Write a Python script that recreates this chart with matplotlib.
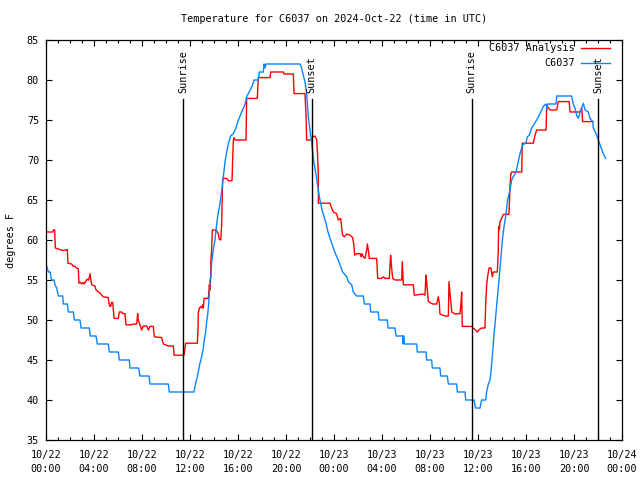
import matplotlib
matplotlib.use('Agg')
import matplotlib.pyplot as plt
from matplotlib.ticker import MultipleLocator

# hours since 2024-10-22 00:00 UTC
analysis_hours = [0.0, 0.56, 0.61, 0.72, 0.78, 1.17, 1.31, 1.72, 1.78, 1.83, 2.14, 2.28, 2.42, 2.56, 2.69,
                  2.75, 2.89, 2.97, 3.11, 3.19, 3.33, 3.44, 3.56, 3.67, 3.72, 3.81, 4.08, 4.17, 4.36, 4.5,
                  4.64, 4.78, 5.19, 5.25, 5.33, 5.39, 5.47, 5.56, 5.67, 6.03, 6.11, 6.31, 6.39, 6.58, 6.67,
                  7.14, 7.28, 7.56, 7.64, 7.69, 7.83, 7.97, 8.11, 8.39, 8.53, 8.67, 8.94, 9.03, 9.64, 9.78,
                  10.19, 10.61, 10.67, 11.5, 11.64, 12.61, 12.67, 12.69, 12.78, 12.92, 13.0, 13.06, 13.11,
                  13.17, 13.53, 13.61, 13.67, 13.72, 13.74, 13.8, 13.86, 14.17, 14.36, 14.44, 14.56, 14.64,
                  14.72, 15.06, 15.2, 15.5, 15.61, 15.67, 15.75, 16.67, 16.72, 17.61, 17.69, 18.67, 18.72,
                  19.78, 19.83, 20.61, 20.67, 21.58, 21.67, 21.72, 22.14, 22.22, 22.42, 22.56, 22.61, 22.69,
                  22.7, 23.67, 23.81, 23.94, 24.22, 24.36, 24.56, 24.64, 24.72, 24.86, 25.06, 25.33, 25.56,
                  25.67, 25.72, 25.89, 26.17, 26.25, 26.33, 26.44, 26.58, 26.72, 26.78, 26.86, 26.94, 27.56,
                  27.64, 27.97, 28.11, 28.25, 28.61, 28.67, 28.72, 28.78, 28.89, 29.08, 29.64, 29.69, 29.78,
                  30.61, 30.69, 31.44, 31.58, 31.67, 31.72, 31.86, 32.22, 32.56, 32.69, 32.78, 32.83, 33.25,
                  33.53, 33.58, 33.67, 33.81, 34.08, 34.5, 34.58, 34.64, 34.69, 35.47, 35.6, 35.83, 35.94,
                  36.1, 36.3, 36.58, 36.64, 36.72, 36.8, 36.92, 37.08, 37.19, 37.28, 37.61, 37.69, 37.72,
                  37.78, 37.83, 37.97, 38.11, 38.58, 38.67, 38.72, 38.8, 39.64, 39.69, 40.61, 40.75, 40.89,
                  41.67, 41.72, 41.78, 42.0, 42.56, 42.69, 43.6, 43.67, 44.5, 44.64, 44.72, 45.61]
analysis_temps = [61.0, 61.0, 61.25, 61.25, 59.0, 58.8, 58.7, 58.75, 58.8, 57.1, 57.0, 56.7, 56.7, 56.5, 56.4,
                  54.6, 54.7, 54.5, 54.7, 54.5, 54.9, 55.1, 55.0, 55.8, 55.2, 54.4, 54.25, 53.75, 53.5, 53.4,
                  53.1, 52.9, 52.8, 52.1, 51.7, 51.7, 52.2, 52.2, 50.2, 50.2, 51.0, 51.0, 50.8, 50.8, 49.4,
                  49.4, 49.5, 49.5, 50.8, 50.0, 49.4, 48.75, 49.25, 49.25, 48.75, 49.2, 49.2, 47.9, 47.8, 47.0,
                  46.75, 46.75, 45.6, 45.6, 47.1, 47.1, 49.0, 50.9, 51.5, 51.7, 51.5, 51.9, 51.5,
                  52.7, 52.7, 54.4, 53.75, 55.4, 57.5, 58.75, 61.25, 61.25, 60.8, 60.1, 60.0, 62.0,
                  67.7, 67.7, 67.4, 67.4, 72.5, 72.8, 72.5, 72.5, 77.7, 77.7, 80.3, 80.3, 81.0,
                  81.0, 80.75, 80.75, 78.3, 78.3, 75.6, 72.5, 72.5, 72.9, 73.0, 72.5, 71.25, 68.5,
                  64.6, 64.6, 64.0, 63.5, 63.3, 62.5, 62.7, 61.5, 60.6, 60.4, 60.75, 60.6, 60.3,
                  59.2, 58.1, 58.3, 58.3, 57.9, 58.3, 57.9, 57.7, 58.75, 59.5, 58.75, 57.7, 57.7,
                  55.2, 55.2, 55.4, 55.2, 55.2, 56.7, 58.1, 56.9, 55.2, 55.0, 55.0, 57.3, 54.4,
                  54.4, 53.1, 53.25, 53.1, 55.6, 54.8, 52.3, 52.0, 52.0, 52.9, 52.1, 50.75, 50.5,
                  50.5, 54.8, 53.3, 51.0, 50.75, 50.8, 52.1, 53.5, 49.2, 49.2, 49.0, 48.7, 48.5,
                  48.8, 49.0, 49.0, 51.9, 54.4, 55.4, 56.5, 56.5, 55.4, 56.0, 56.0, 58.75, 61.7,
                  61.3, 62.3, 62.7, 63.2, 63.2, 66.7, 68.1, 68.5, 68.5, 72.1, 72.1, 73.1, 73.75,
                  73.75, 76.5, 76.7, 76.25, 76.25, 77.3, 77.3, 76.0, 76.0, 76.5, 74.8, 74.8]

obs_hours = [0.0, 0.2, 0.35, 0.45, 0.67, 0.75, 0.89, 1.03, 1.39, 1.44, 1.78, 1.86, 2.28, 2.36, 2.83, 2.92,
             3.61, 3.69, 4.17, 4.28, 5.19, 5.28, 6.03, 6.11, 6.94, 7.0, 7.72, 7.83, 8.58, 8.67, 10.19,
             10.28, 12.33, 12.42, 12.5, 12.61, 12.69, 12.83, 12.97, 13.11, 13.19, 13.3, 13.39, 13.47,
             13.58, 13.67, 13.75, 13.8, 13.94, 14.08, 14.22, 14.36, 14.44, 14.58, 14.69, 14.78, 14.92,
             15.06, 15.19, 15.39, 15.61, 15.83, 16.03, 16.31, 16.58, 16.72, 17.0, 17.22, 17.33, 17.69,
             17.78, 18.11, 18.17, 18.25, 18.33, 21.17, 21.3, 21.44, 21.58, 21.72, 21.86, 22.0, 22.14,
             22.33, 22.47, 22.61, 22.78, 22.89, 23.0, 23.17, 23.33, 23.5, 23.67, 23.81, 23.94, 24.17,
             24.36, 24.5, 24.72, 25.06, 25.19, 25.47, 25.61, 25.89, 26.44, 26.53, 27.0, 27.06, 27.69,
             27.75, 28.44, 28.5, 29.08, 29.17, 29.72, 29.75, 29.78, 29.83, 29.86, 30.89, 30.94, 31.67,
             31.72, 32.14, 32.19, 32.83, 32.89, 33.44, 33.53, 34.22, 34.28, 34.92, 34.97, 35.67, 35.8,
             36.17, 36.3, 36.64, 36.72, 36.86, 37.0, 37.08, 37.19, 37.33, 37.47, 37.61, 37.75, 37.89,
             38.03, 38.17, 38.3, 38.47, 38.67, 38.8, 38.94, 39.17, 39.36, 39.5, 39.72, 40.0, 40.11,
             40.28, 40.47, 40.89, 41.17, 41.44, 41.67, 41.75, 41.8, 42.5, 42.56, 43.8, 43.94, 44.08,
             44.22, 44.36, 44.5, 44.64, 44.78, 44.92, 45.19, 45.33, 45.56, 45.61, 45.89, 46.17, 46.44,
             46.64]
obs_temps = [57, 56, 56, 55, 55, 54.4, 54, 53, 53, 52, 52, 51, 51, 50, 50, 49,
             49, 48, 48, 47, 47, 46, 46, 45, 45, 44, 44, 43, 43, 42, 42,
             41, 41, 41.7, 42.3, 42.9, 43.5, 44.6, 45.4, 46.5, 47.5, 48.5, 49.8, 50.6,
             52.5, 55.0, 55.4, 57.1, 58.75, 60, 62, 63.5, 64, 65.4, 66.7, 67.9, 69.8,
             71, 72, 73, 73.3, 74, 75, 76, 76.9, 77.9, 78.7, 79.4, 80, 80,
             81, 81, 82, 81.5, 82, 82, 81.5, 80.6, 79.8, 78.3, 75.4, 73.75, 72.1,
             69.6, 68.5, 67.1, 65.4, 64.6, 63.75, 62.9, 62.1, 61, 60.2, 59.6, 59, 58.1,
             57.5, 56.9, 56, 55.4, 54.8, 54.4, 53.5, 53, 53, 52, 52, 51, 51,
             50, 50, 49, 49, 48, 48, 47, 48, 48, 47, 47, 46, 46,
             45, 45, 44, 44, 43, 43, 42, 42, 41, 41, 40, 40, 39,
             39, 40, 40, 41, 42, 42.5, 43.5, 45.4, 48.1, 50.4, 52.7, 55, 57.5,
             60, 61.7, 62.9, 65, 66.25, 67.5, 67.9, 68.5, 69.8, 70.8, 71.9, 72.1, 72.9,
             73.1, 74, 75, 75.8, 76.7, 77, 76.3, 77, 77, 78, 78, 77, 76.5,
             75.6, 75.2, 76, 76.5, 77.1, 76.25, 76, 75.2, 74.8, 74, 73.1, 71.9, 70.8,
             70.2]

sun_hours = [11.42, 22.14, 35.47, 46.03]
sun_labels = ['Sunrise', 'Sunset', 'Sunrise', 'Sunset']

xtick_hours = list(range(0, 49, 4))
xtick_labels = ['10/22\n00:00', '10/22\n04:00', '10/22\n08:00', '10/22\n12:00', '10/22\n16:00',
                '10/22\n20:00', '10/23\n00:00', '10/23\n04:00', '10/23\n08:00', '10/23\n12:00',
                '10/23\n16:00', '10/23\n20:00', '10/24\n00:00']

analysis_name = 'C6037 Analysis'
obs_name = 'C6037'
red = '#ff0000'
blue = '#0a84ff'


def main():
    plt.rcParams['font.family'] = ['DejaVu Sans Mono']
    fs = 7.3
    fig = plt.figure(figsize=(6.4, 4.8), dpi=100)
    ax = fig.add_axes([46 / 640, 40 / 480, 576 / 640, 400 / 480])

    ax.plot(analysis_hours, analysis_temps, color=red, lw=1.0)
    ax.plot(obs_hours, obs_temps, color=blue, lw=1.0)

    for h, lab in zip(sun_hours, sun_labels):
        ax.plot([h, h], [35, 77.6], color='black', lw=1.0)
        ax.text(h, 78.4, lab, rotation=90, ha='center', va='bottom', fontsize=fs)

    ax.set_xlim(0, 48)
    ax.set_ylim(35, 85)
    ax.set_xticks(xtick_hours)
    ax.set_xticklabels(xtick_labels, fontsize=fs, linespacing=1.45)
    ax.xaxis.set_minor_locator(MultipleLocator(1))
    ax.yaxis.set_major_locator(MultipleLocator(5))
    ax.tick_params(axis='both', which='both', direction='in', top=True, right=True, width=0.8)
    ax.tick_params(axis='both', which='major', length=4, labelsize=fs)
    ax.tick_params(axis='both', which='minor', length=2)
    ax.tick_params(axis='x', pad=7.5)
    ax.tick_params(axis='y', pad=5)
    for sp in ax.spines.values():
        sp.set_linewidth(0.9)

    ax.set_ylabel('degrees F', fontsize=fs, labelpad=8)
    fig.text(334 / 640, 1 - 19 / 480, 'Temperature for C6037 on 2024-Oct-22 (time in UTC)',
             fontsize=fs, ha='center', va='center')

    # gnuplot-style key: right-justified text, sample line to its right
    for row, (name, col) in enumerate([(analysis_name, red), (obs_name, blue)]):
        yk = 0.98 - row * 0.0375
        ax.text(0.918, yk, name, transform=ax.transAxes, ha='right', va='center', fontsize=fs)
        ax.plot([0.929, 0.979], [yk, yk], transform=ax.transAxes, color=col, lw=1.0)

    fig.savefig('out.png', dpi=100)


if __name__ == '__main__':
    main()
